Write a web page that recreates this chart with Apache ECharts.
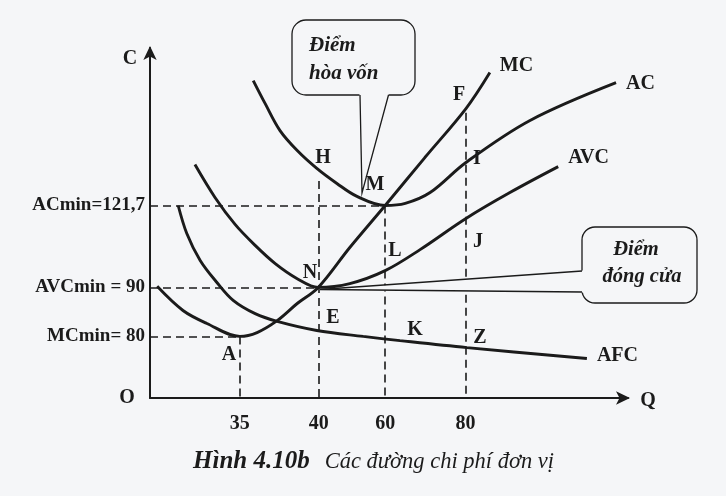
<!DOCTYPE html>
<html>
<head>
<meta charset="utf-8">
<script src="https://cdn.jsdelivr.net/npm/echarts@6/dist/echarts.min.js"></script>
<style>
html,body{margin:0;padding:0;background:#f5f6f8;}
#chart{width:726px;height:496px;}
</style>
</head>
<body>
<div id="chart"></div>
<script>
// Schematic diagram units (not to scale): Q axis 0-100, C axis 0-100
const qTickPos = [18.8, 35.3, 49.2, 66.0];
const qTickLabels = ['35', '40', '60', '80'];
const cTickPos = [17.6, 31.6, 55.0];
const cTickLabels = ['MCmin= 80', 'AVCmin = 90', 'ACmin=121,7'];
const hLevel = 62.0;   // top of the dashed line at Q=40 (point H)
const fLevel = 81.5;   // top of the dashed line at Q=80 (point F)

// MC curve
const mcQ = [1.5, 6.9, 11.9, 18.8, 22.4, 26.6, 30.8, 35.2, 41.8, 49.2, 57.5, 66.1, 71.1];
const mcC = [31.9, 25.0, 21.3, 17.6, 18.7, 22.1, 27.0, 31.6, 43.0, 55.0, 68.7, 82.7, 93.0];
// AC curve
const acQ = [21.6, 24.1, 27.2, 30.8, 34.9, 39.1, 43.3, 49.2, 53.4, 58.6, 66.1, 79.5, 97.5];
const acC = [90.7, 84.1, 76.4, 70.7, 65.6, 61.3, 57.6, 55.0, 55.6, 58.7, 67.3, 79.3, 90.1];
// AVC curve
const avcQ = [9.4, 13.6, 17.8, 22.0, 26.2, 30.8, 35.2, 41.8, 49.2, 56.5, 66.1, 75.3, 85.4];
const avcC = [66.7, 57.3, 49.6, 43.6, 38.4, 34.1, 31.6, 32.7, 36.4, 42.4, 51.3, 58.7, 66.1];
// AFC curve
const afcQ = [5.9, 7.7, 10.5, 14.0, 17.4, 22.0, 26.6, 34.9, 44.6, 52.3, 66.3, 91.4];
const afcC = [55.0, 47.0, 39.3, 33.0, 27.9, 24.1, 21.9, 19.3, 17.6, 16.4, 14.4, 11.3];

const FONT = "'Liberation Serif','DejaVu Serif',serif";
const INK = '#1b1b1b';
const BG = '#f5f6f8';

const zip = (a, b) => a.map((v, i) => [v, b[i]]);

const chart = echarts.init(document.getElementById('chart'), null, {renderer: 'canvas'});

function curve(name, q, c, off) {
  return {
    type: 'line', name: name, data: zip(q, c), smooth: 0.35,
    showSymbol: false, silent: true,
    lineStyle: {color: INK, width: 2.9},
    endLabel: {show: true, formatter: name, offset: off, distance: 10,
      fontFamily: FONT, fontWeight: 'bold', fontSize: 20, color: INK}
  };
}

const dash = {color: INK, width: 1.6, type: [8, 5]};
const seg = (a, b) => [{coord: a}, {coord: b}];

const mcSeries = curve('MC', mcQ, mcC, [0, -7]);
mcSeries.markLine = {
  silent: true, symbol: ['none', 'none'], label: {show: false}, lineStyle: dash,
  animation: false,
  data: [
    seg([0, cTickPos[2]], [qTickPos[2], cTickPos[2]]),
    seg([0, cTickPos[1]], [qTickPos[1], cTickPos[1]]),
    seg([0, cTickPos[0]], [qTickPos[0], cTickPos[0]]),
    seg([qTickPos[0], cTickPos[0]], [qTickPos[0], 0]),
    seg([qTickPos[1], hLevel], [qTickPos[1], 0]),
    seg([qTickPos[2], cTickPos[2]], [qTickPos[2], 0]),
    seg([qTickPos[3], fLevel], [qTickPos[3], 0])
  ]
};

const letters = [
  ['C', 130, 59], ['O', 127, 398], ['Q', 648, 401],
  ['H', 323, 158], ['M', 375, 185], ['N', 310, 273], ['E', 333, 318], ['A', 229, 355],
  ['L', 395, 251], ['K', 415, 330], ['Z', 480, 338], ['J', 478, 242], ['I', 477, 159], ['F', 459, 95]
];

const txt = (x, y, t, font, align) => ({
  type: 'text', x: x, y: y, z: 101,
  style: {text: t, font: font, fill: INK, textAlign: align || 'left', textVerticalAlign: 'middle'}
});

const graphics = [
  // callout "Điểm hòa vốn"
  {type: 'rect', shape: {x: 292, y: 20, width: 123, height: 75, r: 14}, style: {fill: BG, stroke: INK, lineWidth: 1.3}, z: 100},
  {type: 'polygon', shape: {points: [[359.5, 93.5], [388.8, 93.5], [362, 193], [360.5, 193]]}, style: {fill: BG}, z: 100},
  {type: 'polyline', shape: {points: [[388.5, 95], [362, 193], [360, 95]]}, style: {stroke: INK, lineWidth: 1.3, fill: null}, z: 100},
  // callout "Điểm đóng cửa"
  {type: 'rect', shape: {x: 582, y: 227, width: 115, height: 76, r: 13}, style: {fill: BG, stroke: INK, lineWidth: 1.3}, z: 100},
  {type: 'polygon', shape: {points: [[583.5, 270.5], [583.5, 292.5], [320, 290]]}, style: {fill: BG}, z: 100},
  {type: 'polyline', shape: {points: [[582, 271], [320, 289.5], [582, 292]]}, style: {stroke: INK, lineWidth: 1.3, fill: null}, z: 100},
  txt(309, 46, 'Điểm', "italic bold 21px " + FONT),
  txt(309, 74, 'hòa vốn', "italic bold 21px " + FONT),
  txt(636, 250, 'Điểm', "italic bold 20.5px " + FONT, 'center'),
  txt(642, 277, 'đóng cửa', "italic bold 20.5px " + FONT, 'center'),
  {type: 'text', x: 193, y: 462, z: 101, style: {
    text: '{b|Hình 4.10b}{s| }{i|Các đường chi phí đơn vị}',
    rich: {
      b: {font: "italic bold 25px " + FONT, fill: INK},
      s: {width: 15, font: "italic 22px " + FONT},
      i: {font: "italic 22.5px " + FONT, fill: INK}
    },
    textVerticalAlign: 'middle'}}
].concat(letters.map(l => txt(l[1], l[2], l[0], "bold 20px " + FONT, 'center')));

chart.setOption({
  backgroundColor: BG,
  animation: false,
  grid: {left: 150, right: 98, top: 48, bottom: 98, containLabel: false},
  xAxis: {
    type: 'value', min: 0, max: 100,
    axisLine: {show: true, lineStyle: {color: INK, width: 2}, symbol: ['none', 'arrow'], symbolSize: [10, 14], symbolOffset: [0, 2]},
    axisTick: {show: false},
    splitLine: {show: false},
    axisLabel: {
      customValues: qTickPos, margin: 16,
      formatter: v => { const i = qTickPos.indexOf(v); return i >= 0 ? qTickLabels[i] : ''; },
      fontFamily: FONT, fontWeight: 'bold', fontSize: 20, color: INK
    }
  },
  yAxis: {
    type: 'value', min: 0, max: 100,
    axisLine: {show: true, lineStyle: {color: INK, width: 2}, symbol: ['none', 'arrow'], symbolSize: [10, 14], symbolOffset: [0, 2]},
    axisTick: {show: false},
    splitLine: {show: false},
    axisLabel: {
      customValues: cTickPos, margin: 5,
      formatter: v => { const i = cTickPos.indexOf(v); return i >= 0 ? cTickLabels[i] : ''; },
      fontFamily: FONT, fontWeight: 'bold', fontSize: 19, color: INK
    }
  },
  series: [
    mcSeries,
    curve('AC', acQ, acC, [0, 1]),
    curve('AVC', avcQ, avcC, [0, -9]),
    curve('AFC', afcQ, afcC, [0, -3])
  ],
  graphic: graphics
});
</script>
</body>
</html>
